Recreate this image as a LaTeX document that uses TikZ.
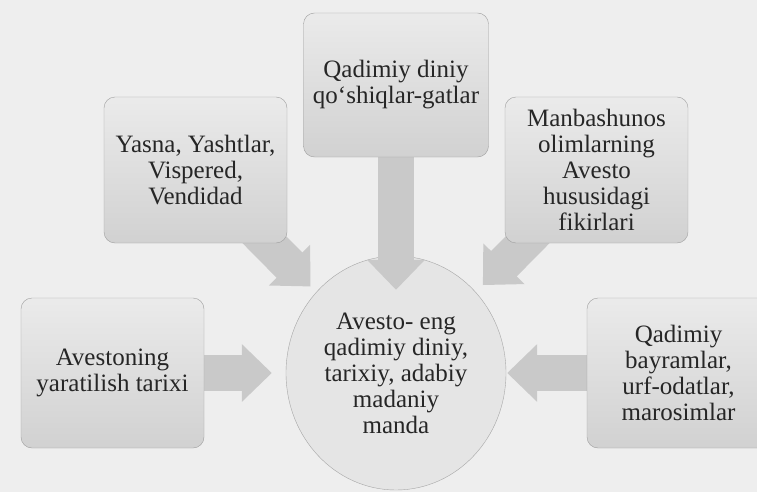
\documentclass[tikz,border=0pt]{standalone}
\usepackage{fontspec}
\setmainfont{Liberation Serif}
\usetikzlibrary{arrows.meta}
\usetikzlibrary{shapes.geometric}

\pgfdeclarelayer{back}
\pgfdeclarelayer{mid}
\pgfsetlayers{back,mid,main}

\tikzset{
  topicbox/.style={rectangle,rounded corners=11pt,draw=gray!75,thin,
    top color=gray!16,bottom color=gray!36,minimum width=183pt,minimum height=146pt,
    align=center,text=black!85,font=\fontsize{25}{26}\selectfont},
  hubcircle/.style={ellipse,draw=gray!70,thin,fill=gray!20,inner sep=0pt,
    minimum width=220pt,minimum height=234pt,
    align=center,text=black!85,font=\fontsize{25}{26}\selectfont},
  bigarrow/.style={draw=gray!42,line width=36pt,-{Triangle[length=30pt,width=56pt]}}
}

\begin{document}
\begin{tikzpicture}[x=1pt,y=-1pt]
\useasboundingbox (0,0) rectangle (757,492);
\begin{pgfonlayer}{back}
\fill[gray!13] (0,0) rectangle (757,492);
\node[hubcircle] (avesto) at (396,373) {Avesto- eng\\qadimiy diniy,\\tarixiy, adabiy\\madaniy\\manda};
\end{pgfonlayer}

\node[topicbox,minimum width=185pt,minimum height=144pt] (qoshiq) at (396,85) {Qadimiy diniy\\qo‘shiqlar-gatlar};
\node[topicbox] (yasna) at (195.5,170) {Yasna, Yashtlar,\\Vispered,\\Vendidad};
\node[topicbox] (manba) at (596.5,170) {Manbashunos\\olimlarning\\Avesto\\husus\-idagi\\fikirlari};
\node[topicbox,minimum height=150pt] (tarix) at (112.5,373) {Avestoning\\yaratilish tarixi};
\node[topicbox,minimum height=150pt] (bayram) at (678.5,373) {Qadimiy\\bayramlar,\\urf-odatlar,\\marosimlar};

% arrows into the centre
\begin{pgfonlayer}{mid}
\draw[bigarrow,shorten >=-34pt] (qoshiq.center) -- (avesto);
\draw[bigarrow,shorten >=8pt] (yasna.center) -- (avesto);
\draw[bigarrow,shorten >=10pt] (manba.center) -- (avesto);
\draw[bigarrow,shorten >=14pt] (tarix.center) -- (avesto);
\draw[bigarrow,shorten >=1pt] (bayram.center) -- (avesto);
\end{pgfonlayer}

\end{tikzpicture}
\end{document}
